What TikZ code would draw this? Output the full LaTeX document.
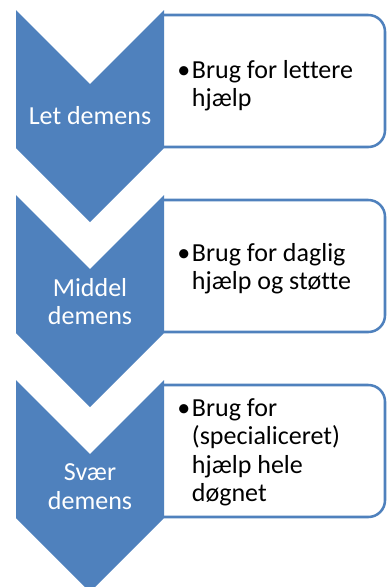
\documentclass[tikz,border=0pt]{standalone}
\usepackage{fontspec}
\setmainfont[Ligatures=NoCommon]{Carlito}
\definecolor{stageblue}{HTML}{4F81BD}

\begin{document}
\begin{tikzpicture}[x=0.75pt,y=-0.75pt,
    stage/.style={text=white,anchor=base,inner sep=0pt,font=\fontsize{19.5}{21.4}\selectfont},
    detail/.style={text=black,anchor=base west,inner sep=0pt,font=\fontsize{19.5}{21.4}\selectfont},
    frame/.style={draw=stageblue,line width=1.9pt,rounded corners=12.5pt,fill=white}] % stadier af demens
  \useasboundingbox (0,0) rectangle (387,587);
  \foreach \t in {15,200,385}
    \draw[frame] (164,\t) -- (385,\t) -- (385,\t+132) -- (164,\t+132);
  \foreach \t in {10,195,380}
    \fill[stageblue] (16,\t) -- (90,\t+74) -- (164,\t) -- (164,\t+138)
      -- (90,\t+212) -- (16,\t+138) -- cycle;
  \node[stage] (let) at (90,124.3) {Let demens};
  \node[stage] (middel) at (90,296) {\begin{tabular}[t]{@{}c@{}}Middel\\demens\end{tabular}};
  \node[stage] (svaer) at (90,480.7) {\begin{tabular}[t]{@{}c@{}}Svær\\demens\end{tabular}};
  \node[detail] (d1) at (177,78.3) {\makebox[11pt][l]{\textbullet}\parbox[t]{160pt}{Brug for lettere\\hjælp}};
  \node[detail] (d2) at (177,261) {\makebox[11pt][l]{\textbullet}\parbox[t]{160pt}{Brug for daglig\\hjælp og støtte}};
  \node[detail] (d3) at (177,416) {\makebox[11pt][l]{\textbullet}\parbox[t]{160pt}{Brug for\\(specialiceret)\\hjælp hele\\døgnet}};
\end{tikzpicture}
\end{document}
